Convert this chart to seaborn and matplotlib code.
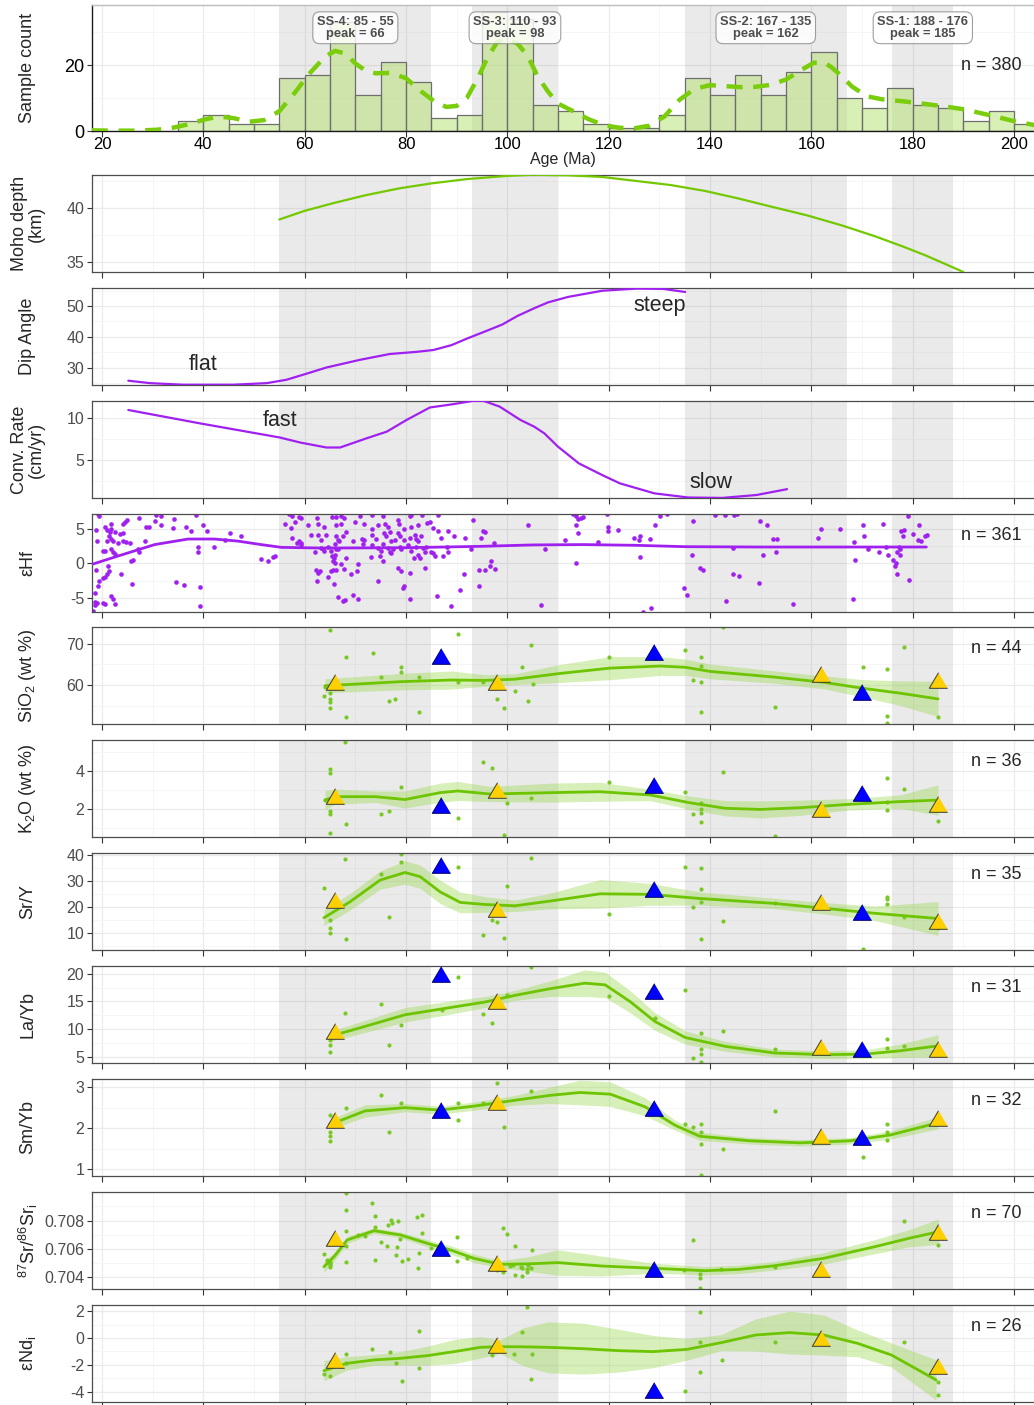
import numpy as np
import pandas as pd
import matplotlib
matplotlib.use("Agg")
import matplotlib.pyplot as plt
import seaborn as sns

sns.set_theme(style="white")
plt.rcParams["font.family"] = ["Liberation Sans", "DejaVu Sans"]
plt.rcParams["mathtext.fontset"] = "custom"
plt.rcParams["mathtext.rm"] = "Liberation Sans"
plt.rcParams["mathtext.it"] = "Liberation Sans:italic"
plt.rcParams["mathtext.bf"] = "Liberation Sans:bold"
plt.rcParams["axes.unicode_minus"] = False

# ------------------------------------------------------------------ data
hist_left = [35, 40, 45, 50, 55, 60, 65, 70, 75, 80, 85, 90, 95, 100, 105, 110, 115,
             120, 125, 130, 135, 140, 145, 150, 155, 160, 165, 170, 175, 180, 185,
             190, 195, 200]
hist_counts = [3, 5, 2, 2, 16, 17, 33, 11, 21, 15, 4, 5, 36, 34, 8, 6, 2,
               1, 1, 5, 16, 11, 17, 11, 18, 24, 10, 7, 13, 8, 7, 3, 6, 2]
n_hist = 380

kde_age = [18, 22, 27, 31, 34, 37, 40, 43, 46, 49, 52, 55, 58, 61, 64, 66, 68, 70, 72, 74,
           77, 80, 83, 86, 88, 90, 92, 94, 96, 98, 100, 102, 104, 106, 108, 110, 113, 116, 119, 122,
           125, 128, 131, 134, 137, 140, 143, 146, 149, 152, 155, 158, 160.5, 162.5, 164, 166, 168, 171, 174, 177.5,
           181, 184, 187, 190, 193.5, 197, 200, 204]
kde_count = [0.2, 0.1, 0.1, 0.4, 1.0, 2.0, 3.4, 4.4, 3.9, 2.8, 3.3, 6.0, 11.5, 17.5, 22.5, 24.3, 23.5, 20.5, 18.3, 17.5,
             17.6, 16.0, 12.0, 8.5, 7.3, 7.6, 10.0, 15.5, 22.0, 27.0, 28.0, 26.5, 22.8, 16.5, 12.0, 8.3, 6.0, 3.6, 1.8, 1.0,
             0.8, 1.6, 4.4, 9.5, 12.8, 13.9, 13.6, 13.3, 13.4, 14.0, 15.6, 18.5, 20.7, 20.8, 19.3, 16.6, 13.5, 10.5, 9.6, 9.1,
             8.5, 7.9, 7.3, 6.6, 5.4, 4.1, 3.0, 1.8]

stage_names = ["SS-4", "SS-3", "SS-2", "SS-1"]
stage_young = [55, 93, 135, 176]
stage_old = [85, 110, 167, 188]
stage_peak = [66, 98, 162, 185]

moho_age = [55, 60, 65.6, 72, 78.8, 85, 92, 100, 105, 112, 118.7, 125, 132.2, 139, 145.6,
            152, 159, 166, 172.5, 178, 182.6, 186, 190]
moho_depth = [38.95, 39.75, 40.46, 41.2, 41.85, 42.3, 42.7, 43.0, 43.1, 43.05, 42.9, 42.55, 42.15, 41.6, 40.9,
              40.15, 39.35, 38.4, 37.4, 36.45, 35.6, 34.9, 34.07]

dip_age = [25.2, 29.5, 36, 45.9, 52.5, 56.4, 60.4, 64.3, 70.9, 76.8, 82.1, 85.4, 89, 92, 96,
           99, 102, 105.3, 108, 112, 118.7, 125.4, 130.8, 135.1]
dip_angle = [25.7, 24.9, 24.4, 24.4, 24.9, 26.0, 28.0, 30.0, 32.5, 34.4, 35.1, 35.7, 37.3, 39.4, 42.0,
             44.0, 46.8, 49.3, 51.2, 53.0, 55.0, 55.7, 55.6, 54.6]

conv_age = [25.2, 39.3, 55.1, 59.1, 64.3, 67, 72.2, 76.2, 80.1, 84.7, 89.3, 93.3, 95.3, 98.5, 102.6,
            105.3, 107.3, 110, 114.1, 118.7, 122.2, 129, 135.7, 142.4, 149.2, 155.2]
conv_rate = [11.0, 9.4, 7.7, 7.1, 6.5, 6.5, 7.6, 8.4, 9.8, 11.3, 11.7, 12.1, 12.1, 11.4, 9.8,
             9.0, 8.2, 6.6, 4.6, 3.2, 2.2, 1.0, 0.5, 0.45, 0.8, 1.5]

hf_line_age = [18.2, 23.8, 30.4, 37, 42.2, 46.8, 51.4, 55.4, 63.3, 80, 95, 105, 115, 125, 135, 150, 170, 182.7]
hf_line_val = [-0.1, 1.2, 2.7, 3.5, 3.5, 3.2, 2.7, 2.3, 2.2, 2.25, 2.45, 2.65, 2.7, 2.6, 2.4, 2.35, 2.35, 2.35]

hf_pts_early = [
    (19.2, 7.1), (19.5, 6.75), (27.4, 6.5), (30.7, 7.0), (31.6, 6.75), (34.2, 6.4), (38.5, 7.0),
    (21.8, 5.6), (24.1, 5.6), (24.6, 6.0), (25.0, 6.3), (28.75, 5.3), (29.3, 5.3), (30.4, 6.1), (31.7, 5.45),
    (36.6, 5.2), (39.9, 5.45), (18.9, 4.8), (20.5, 5.2), (20.9, 4.8), (21.8, 5.0), (21.6, 4.5), (22.5, 4.5),
    (23.5, 4.2), (24.1, 4.35), (34.0, 5.1), (37.6, 4.6), (40.8, 4.7), (45.2, 4.35), (47.5, 4.0),
    (19.1, 3.15), (20.9, 3.15), (21.3, 3.9), (21.7, 3.5), (22.2, 3.15), (23.2, 2.9), (24.1, 3.15), (24.8, 3.05),
    (25.5, 2.9), (28.4, 3.15), (38.9, 2.4), (42.2, 2.3), (44.2, 3.4), (20.2, 1.8), (20.5, 1.8), (21.8, 2.0),
    (22.2, 1.7), (22.5, 1.4), (27.1, 2.0), (27.4, 1.7), (38.9, 1.6), (25.7, 0.3), (26.1, 0.5), (51.4, 0.6),
    (52.8, 0.4), (53.75, 0.9), (54.2, 1.1), (18.9, -0.9), (21.2, -0.4), (21.3, -1.15), (20.9, -1.5), (20.5, -1.9),
    (20.2, -2.1), (19.5, -2.5), (23.7, -1.5), (19.2, -3.3), (26.0, -2.9), (34.7, -2.7), (36.2, -3.1), (39.3, -3.45),
    (18.7, -4.25), (18.6, -5.5), (19.1, -5.7), (20.2, -5.7), (20.5, -5.85), (21.8, -4.7), (22.2, -5.1), (22.6, -5.8),
    (39.3, -6.1), (18.2, -6.9), (18.6, -6.0)]
hf_pts_mid = [
    (57.0, 7.1), (57.5, 6.75), (58.8, 6.6), (59.2, 6.5), (62.5, 6.5), (65.3, 6.6), (66.25, 6.65), (67.2, 6.75),
    (67.8, 6.5), (69.9, 6.0), (70.9, 6.75), (73.2, 7.0), (75.5, 6.75), (78.4, 6.3), (80.7, 6.75), (81.05, 6.9),
    (83.2, 7.0), (86.3, 6.9), (56.05, 5.6), (58.0, 6.0), (57.4, 5.1), (60.7, 5.45), (62.6, 5.6), (63.9, 5.2),
    (66.25, 5.5), (67.2, 5.6), (68.2, 4.5), (71.7, 5.6), (73.2, 5.0), (74.5, 5.45), (75.8, 5.6), (76.45, 5.3),
    (76.8, 4.5), (78.55, 5.6), (79.7, 5.0), (81.05, 5.2), (82.4, 5.45), (84.1, 5.8), (84.7, 6.0), (85.3, 5.1),
    (86.3, 4.6), (88.3, 4.6), (57.5, 3.6), (58.8, 3.15), (59.3, 2.9), (61.3, 4.1), (62.6, 4.1), (63.3, 3.4),
    (64.3, 4.1), (66.25, 3.9), (66.6, 3.4), (66.7, 3.15), (67.6, 3.9), (69.5, 3.15), (71.3, 3.5), (71.8, 3.4),
    (73.2, 4.1), (74.1, 3.5), (75.7, 4.35), (76.1, 3.9), (77.1, 3.15), (77.8, 3.4), (78.4, 4.35), (78.75, 3.9),
    (79.7, 3.4), (80.7, 3.6), (81.7, 4.1), (82.0, 3.5), (82.4, 3.15), (83.0, 3.9), (87.0, 3.6), (89.5, 3.9),
    (91.6, 3.7), (58.55, 2.9), (59.3, 2.7), (62.0, 1.7), (63.3, 2.2), (63.6, 2.0), (63.9, 1.8), (64.7, 2.3),
    (65.1, 1.8), (65.9, 2.8), (66.25, 2.0), (66.6, 2.0), (71.5, 2.8), (73.2, 2.6), (74.5, 2.2), (75.1, 1.8),
    (75.5, 2.8), (76.45, 2.2), (76.8, 1.7), (77.1, 1.5), (77.4, 2.1), (78.9, 2.4), (79.1, 2.0), (80.4, 2.7),
    (81.05, 1.8), (82.0, 2.4), (82.4, 1.25), (83.4, 2.2), (83.7, 1.7), (84.0, 2.4), (85.0, 1.7), (85.3, 1.5),
    (88.0, 2.4), (88.3, 1.7), (92.9, 2.0), (65.3, 1.0), (65.8, 0.75), (65.9, 1.25), (65.6, 0.3), (66.05, 0.05),
    (67.2, -0.1), (68.2, 0.75), (73.0, 0.85), (74.8, 1.0), (75.5, 0.3), (81.6, 0.75), (82.7, 0.75), (85.7, 1.0),
    (87.3, 1.0), (83.8, -0.6), (62.3, -0.9), (62.6, -1.4), (62.96, -1.15), (62.5, -2.5), (64.6, -2.0),
    (65.1, -1.15), (65.6, -0.9), (66.25, -0.9), (67.8, -0.8), (69.1, -1.5), (70.5, -0.1), (70.4, -1.15),
    (74.5, -2.6), (78.4, -0.6), (79.1, -1.15), (80.7, -1.4), (91.4, -1.6), (94.5, -0.9), (95.5, -0.9),
    (96.5, -0.4), (96.8, 0.3), (97.6, -0.8), (65.8, -3.0), (66.6, -4.9), (67.6, -5.4), (68.0, -5.3),
    (69.5, -4.5), (70.5, -5.1), (79.4, -3.55), (79.7, -3.2), (80.7, -5.2), (86.2, -4.7), (88.8, -6.2),
    (90.6, -3.9), (94.5, -3.2), (106.7, -6.0), (93.2, 6.3), (95.2, 4.7), (95.5, 4.5), (94.9, 3.6),
    (97.4, 2.9), (104.1, 5.45), (107.4, 2.1)]
hf_pts_late = [
    (113.0, 7.1), (113.6, 6.75), (114.0, 6.4), (114.5, 6.5), (115.0, 6.6), (119.7, 7.1), (130.1, 6.75),
    (131.6, 7.1), (141.0, 6.9), (143.0, 7.0), (144.7, 6.9), (145.4, 7.1), (179.0, 6.75), (113.6, 5.45),
    (119.9, 5.3), (129.2, 5.5), (136.6, 6.1), (149.9, 6.1), (151.3, 5.45), (170.1, 5.45), (174.1, 5.6),
    (181.3, 5.5), (111.3, 3.4), (114.0, 4.35), (119.9, 4.6), (121.9, 4.8), (125.0, 3.7), (126.1, 3.9),
    (125.9, 3.4), (128.2, 3.5), (152.4, 3.5), (153.3, 3.5), (161.4, 3.7), (162.0, 5.0), (165.7, 5.0),
    (170.3, 4.0), (177.6, 4.6), (178.2, 4.8), (178.0, 4.0), (180.1, 4.2), (181.1, 3.4), (181.6, 3.15),
    (182.4, 4.0), (182.9, 4.1), (117.8, 3.05), (144.6, 2.2), (168.4, 3.05), (171.1, 2.0), (173.4, 1.7),
    (174.7, 2.4), (175.2, 1.25), (176.9, 1.6), (177.5, 2.0), (177.2, 2.4), (113.6, 0.05), (126.1, 0.9),
    (136.4, 1.15), (150.5, 1.15), (153.0, 1.6), (168.6, 0.5), (176.1, 0.5), (176.7, 0.05), (176.6, -0.4),
    (177.5, 1.15), (138.0, -0.6), (138.7, -1.0), (144.6, -1.5), (145.7, -1.8), (149.6, -2.8), (176.9, -1.6),
    (179.3, -2.4), (134.9, -3.55), (135.4, -4.5), (143.1, -5.4), (156.3, -5.8), (168.3, -5.1),
    (126.7, -6.95), (128.3, -6.4)]
n_hf = 361

sio2_pts = [(65.0, 73.3), (68.2, 66.9), (73.4, 67.7), (79.1, 64.3), (79.1, 63.1), (82.6, 62.0), (75.1, 61.9),
            (90.2, 72.4), (90.2, 60.8), (95.1, 60.8), (102.8, 64.3), (104.6, 69.8), (105.0, 60.2), (101.5, 58.6),
            (97.9, 56.6), (99.3, 54.5), (104.0, 56.1), (76.6, 56.1), (77.8, 56.6), (82.6, 53.5), (68.2, 52.3),
            (63.8, 57.3), (65.0, 58.1), (65.0, 56.7), (65.0, 55.9), (65.0, 54.5), (64.0, 59.6), (120.1, 66.7),
            (135.1, 68.5), (138.2, 66.9), (138.2, 64.7), (136.7, 61.1), (138.2, 60.7), (138.2, 53.5),
            (142.5, 74.0), (152.8, 54.7), (170.1, 64.3), (175.0, 63.9), (175.0, 52.5), (175.0, 50.8),
            (178.2, 69.2), (185.0, 52.1), (65.0, 59.2), (65.4, 60.4)]
sio2_line_age = [64, 79, 89, 95.6, 101.5, 110.4, 120.3, 130.1, 135.1, 140, 152.8, 162.7, 170.1, 177.5, 185]
sio2_line_val = [59.8, 60.8, 61.2, 61.1, 61.4, 62.8, 64.1, 64.6, 64.3, 63.3, 61.9, 60.6, 59.2, 58.0, 56.6]
sio2_half = [1.7, 2.0, 2.2, 1.4, 1.3, 2.2, 2.8, 2.3, 2.0, 1.8, 1.5, 1.6, 2.1, 3.0, 4.3]
sio2_yellow = [(66, 60.6), (98, 60.6), (162, 62.7), (185, 61.1)]
sio2_blue = [(87, 67.0), (129, 68.0), (170, 58.2)]

k2o_pts = [(68, 5.55), (65, 4.09), (65, 3.88), (79.1, 3.14), (95.1, 4.46), (97.0, 4.14), (100, 2.33), (104.6, 2.56),
           (120.1, 3.44), (135.1, 2.91), (142.5, 3.93), (138.2, 2.3), (138.2, 1.98), (138.2, 1.81), (136.7, 1.74),
           (138.2, 1.33), (152.8, 0.58), (175, 3.61), (178.2, 3.04), (175, 2.39), (175, 1.95), (185, 1.37),
           (90.2, 1.51), (99.3, 0.63), (76.6, 1.89), (75.1, 1.74), (68.2, 1.21), (65, 1.91), (65, 1.74), (65, 0.72),
           (64, 2.47), (65.8, 2.74), (98.1, 2.82), (162.2, 2.04), (185.2, 2.3), (87, 2.3)]
k2o_line_age = [64, 66, 74, 79.8, 86.7, 90.2, 96.6, 108.4, 118.3, 128.2, 136, 143, 149.9, 157.8, 167.6, 177.5, 185]
k2o_line_val = [2.47, 2.65, 2.65, 2.5, 2.86, 2.95, 2.79, 2.86, 2.91, 2.74, 2.33, 2.04, 1.98, 2.07, 2.25, 2.39, 2.47]
k2o_half = [0.5, 0.4, 0.3, 0.45, 0.5, 0.5, 0.4, 0.5, 0.5, 0.3, 0.35, 0.4, 0.45, 0.4, 0.3, 0.35, 0.8]
k2o_yellow = [(66, 2.7), (98, 2.98), (162, 2.02), (185, 2.28)]
k2o_blue = [(87, 2.2), (129, 3.28), (170, 2.85)]

sry_pts = [(68, 38.5), (79.1, 40.4), (79.1, 37.2), (75.1, 32.6), (90.2, 35.4), (63.8, 27.4), (65, 15.0), (65, 12.1),
           (65, 9.9), (68.2, 7.7), (76.6, 16.0), (100, 28.2), (104.6, 38.7), (97, 14.9), (97.9, 14.1), (95.1, 9.2),
           (99.3, 8.2), (120.1, 17.2), (135.1, 35.6), (138.2, 34.9), (138.2, 26.8), (136.7, 20.1), (138.2, 22.1),
           (138.2, 7.8), (142.5, 14.7), (152.8, 21.4), (175, 24.0), (175, 23.0), (175, 21.0), (178.2, 16.3),
           (170.1, 3.7), (185, 11.8), (66, 21.4), (162.2, 19.5), (185.2, 14.0)]
sry_line_age = [63.8, 69, 74.9, 79.8, 82.8, 86.7, 90.7, 95.6, 101.5, 108.4, 118.3, 128.2, 138, 152.8, 162.7, 172.6, 185]
sry_line_val = [15.9, 22.1, 30.4, 33.3, 31.7, 25.9, 21.8, 21.0, 20.5, 22.3, 25.1, 24.9, 23.3, 21.4, 19.5, 17.6, 15.6]
sry_half = [3.0, 3.2, 3.5, 4.5, 4.5, 4.5, 4.0, 3.0, 2.2, 3.0, 5.5, 4.2, 2.5, 2.0, 2.2, 2.8, 6.5]
sry_yellow = [(66, 22.8), (98, 19.3), (162, 21.8), (185, 14.7)]
sry_blue = [(87, 36.1), (129, 26.8), (170, 18.3)]

layb_pts = [(104.6, 21.2), (90.2, 19.5), (75.1, 14.6), (68, 12.9), (79.1, 10.7), (76.6, 7.2), (65, 8.1), (65, 7.2),
            (65, 5.8), (95.1, 12.8), (97, 11.2), (100, 16.1), (120.1, 15.9), (135.1, 17.0), (138.2, 9.4), (138.2, 6.4),
            (138.2, 5.5), (136.7, 4.8), (138.2, 4.0), (142.5, 9.7), (152.8, 6.4), (175, 8.2), (175, 6.6), (178.2, 7.0),
            (66, 9.3), (98.1, 15.0), (162.2, 6.3), (185.2, 6.0), (170.1, 5.8), (87.2, 13.5), (129.1, 12.0)]
layb_line_age = [65, 71.9, 79.8, 88.7, 95.6, 101.5, 108.4, 115.3, 119.3, 124.2, 129.1, 135.1, 143, 152.8, 162.7,
                 170.6, 177.5, 185]
layb_line_val = [8.7, 10.5, 12.6, 13.9, 14.9, 16.1, 17.3, 18.3, 18.0, 15.0, 11.4, 8.5, 6.9, 5.7, 5.4, 5.5, 6.1, 7.0]
layb_half = [0.9, 1.1, 1.3, 1.2, 1.0, 0.9, 1.4, 2.4, 2.3, 2.0, 1.6, 1.2, 0.9, 0.7, 0.7, 0.8, 1.2, 2.0]
layb_yellow = [(66, 9.6), (98, 15.1), (162, 6.7), (185, 6.4)]
layb_blue = [(87, 19.9), (129, 16.8), (170, 6.4)]

smyb_pts = [(97.9, 3.11), (104.6, 2.91), (75.1, 2.8), (79.1, 2.62), (68.2, 2.5), (90.2, 2.62), (95.1, 2.62),
            (90.2, 2.21), (65, 2.32), (65, 2.11), (65, 1.91), (65, 1.8), (65, 1.69), (76.6, 1.91), (99.3, 2.02),
            (152.8, 2.41), (135.1, 2.11), (138.2, 2.11), (136.7, 2.02), (138.2, 1.91), (138.2, 1.61), (142.5, 1.5),
            (138.2, 0.86), (175, 2.11), (175, 1.91), (175, 1.71), (170.1, 1.3), (66, 2.24), (98.1, 2.6),
            (162.2, 1.79), (185.2, 2.2), (87.2, 2.4)]
smyb_line_age = [65.5, 71.9, 79.8, 86.7, 93.6, 101.5, 108.4, 114.3, 120.3, 127.2, 133.1, 138, 147.9, 157.8, 167.6,
                 175.5, 185]
smyb_line_val = [2.11, 2.42, 2.5, 2.44, 2.54, 2.68, 2.8, 2.87, 2.83, 2.52, 2.07, 1.8, 1.69, 1.64, 1.69, 1.83, 2.13]
smyb_half = [0.12, 0.15, 0.1, 0.1, 0.1, 0.12, 0.2, 0.3, 0.3, 0.22, 0.12, 0.1, 0.08, 0.08, 0.08, 0.1, 0.15]
smyb_yellow = [(66, 2.21), (98, 2.65), (162, 1.8), (185, 2.25)]
smyb_blue = [(87, 2.45), (129, 2.5), (170, 1.79)]

sr_pts = [(68.1, 0.70995), (68.1, 0.70875), (68.1, 0.70727), (68.1, 0.70624), (68.1, 0.70511), (63.8, 0.70565),
          (65.0, 0.70511), (65.0, 0.70487), (65.0, 0.70475), (73.2, 0.70922), (73.9, 0.70833), (73.9, 0.70758),
          (73.9, 0.70522), (76.3, 0.70621), (76.5, 0.70769), (77.0, 0.70805), (77.3, 0.70786), (78.4, 0.708),
          (78.2, 0.70616), (78.0, 0.70555), (78.8, 0.70668), (79.3, 0.70518), (80.3, 0.70527), (82.1, 0.70824),
          (83.1, 0.70842), (83.1, 0.70711), (82.5, 0.70574), (82.4, 0.70464), (90.0, 0.70682), (90.0, 0.70515),
          (99.2, 0.7075), (100.0, 0.70704), (101.5, 0.70624), (97.9, 0.70452), (99.2, 0.7044), (104.9, 0.70593),
          (101.2, 0.70487), (102.6, 0.70475), (102.9, 0.70463), (103.9, 0.70458), (104.6, 0.70463),
          (103.9, 0.70435), (101.5, 0.70416), (102.9, 0.70412), (136.7, 0.70663), (138.1, 0.70424),
          (138.1, 0.70393), (138.1, 0.70325), (134.8, 0.70452), (142.2, 0.70456), (152.9, 0.70475),
          (178.2, 0.70797), (184.9, 0.70626), (65.0, 0.70500), (65.0, 0.70493), (64.5, 0.70520), (66.0, 0.70680),
          (98.0, 0.70500), (98.5, 0.70470), (100.5, 0.70480), (104.0, 0.70490), (129.0, 0.70460),
          (162.0, 0.70450), (185.0, 0.70720), (70.5, 0.70700), (72.0, 0.70690), (75.0, 0.70650),
          (85.0, 0.70610), (88.0, 0.70590), (92.0, 0.70540)]
sr_line_age = [63.8, 65.8, 68.4, 73.7, 78.9, 84.2, 88.8, 93.4, 98.6, 104, 110, 118.7, 129.1, 138.9, 145.6, 152.3,
               162.4, 172.5, 179.2, 185.1]
sr_line_val = [0.70475, 0.70546, 0.70664, 0.70729, 0.70699, 0.7064, 0.70593, 0.70534, 0.70492, 0.70495, 0.70504,
               0.7048, 0.70464, 0.70447, 0.70456, 0.7048, 0.70534, 0.70616, 0.70675, 0.70722]
sr_half = [0.0004, 0.0003, 0.00025, 0.0002, 0.0002, 0.00025, 0.0003, 0.0003, 0.00025, 0.0005, 0.0009, 0.0007,
           0.00035, 0.0003, 0.0003, 0.0003, 0.0004, 0.0005, 0.0006, 0.0009]
sr_yellow = [(66, 0.7068), (98, 0.70503), (162, 0.70456), (185, 0.70722)]
sr_blue = [(87, 0.70606), (129, 0.70458)]

nd_pts = [(63.8, -2.71), (65, -2.81), (68.1, -1.19), (68.1, -1.84), (73.2, -0.82), (76.8, -1.02), (78.1, -1.89),
          (79.3, -3.18), (82.5, 0.52), (82.5, -2.21), (97, -1.27), (103.8, 2.3), (102.9, 0.42), (101.4, -1.19),
          (104.9, -1.19), (104.6, -3.06), (135.0, -3.96), (138.1, 1.94), (138.1, -0.3), (138.1, -2.51),
          (142.4, -1.64), (152.9, -0.27), (178.2, -0.27), (184.9, -3.26), (184.9, -4.25), (66, -1.6)]
nd_line_age = [63.8, 68.4, 73.7, 78.9, 84.2, 89.5, 94.7, 98.6, 103, 108, 115, 122, 128.8, 135.5, 142.2, 149,
               155.7, 162.4, 169.1, 175.8, 184.6]
nd_line_val = [-2.44, -1.89, -1.64, -1.52, -1.32, -1.02, -0.70, -0.65, -0.66, -0.70, -0.80, -0.95, -1.02, -0.85,
               -0.35, 0.22, 0.4, 0.22, -0.4, -1.27, -3.13]
nd_half = [0.75, 0.5, 0.4, 0.5, 0.7, 0.9, 0.8, 0.5, 1.4, 1.9, 1.9, 1.6, 1.2, 0.8, 0.6, 1.2, 1.6, 1.5, 1.0, 0.9, 1.5]
nd_yellow = [(66, -1.63), (98, -0.55), (162, 0.0), (185, -2.12)]
nd_blue = [(129, -3.9)]

geo_n = {"sio2": 44, "k2o": 36, "sry": 35, "layb": 31, "smyb": 32, "sr": 70, "nd": 26}

# ------------------------------------------------------------------ style
GREEN_PT = "#78C925"
GREEN_LN = "#6DC400"
BAND_FILL = "#9BD84E"
PURPLE = "#A020F0"
YELLOW = "#FFD000"
BLUE = "#0000FF"
TRI = [(0, 0.85), (-1, -0.85), (1, -0.85)]

W, H = 1034, 1405
fig = plt.figure(figsize=(W / 100, H / 100), dpi=100)
XLIM = (18.03, 203.94)
LEFT, RIGHT = 92, 1034
major_x = list(range(20, 201, 20))
minor_x = list(range(30, 201, 20))


def make_ax(top, bottom):
    return fig.add_axes([LEFT / W, 1 - bottom / H, (RIGHT - LEFT) / W, (bottom - top) / H])


def base_style(ax, ylim, yticks, minor_y, top_panel=False):
    ax.set_xlim(XLIM)
    ax.set_ylim(ylim)
    ax.set_xticks(major_x)
    ax.set_xticks(minor_x, minor=True)
    ax.set_yticks(yticks)
    ax.set_yticks(minor_y, minor=True)
    ax.set_axisbelow(True)
    ax.grid(True, which="major", color="#EBEBEB", lw=0.9)
    ax.grid(True, which="minor", color="#F3F3F3", lw=0.5)
    for lo, hi in zip(stage_young, stage_old):
        ax.axvspan(lo, hi, color="#808080", alpha=0.16, lw=0, zorder=0.6)
    ax.tick_params(axis="both", which="minor", length=0)
    ax.tick_params(axis="x", which="major", bottom=True, length=4, width=0.8, color="#333333",
                   labelbottom=top_panel, labelsize=12, labelcolor="black", pad=0.5)
    ax.tick_params(axis="y", which="major", left=True, length=3.5, width=0.8, color="#333333",
                   labelsize=13 if top_panel else 11.5,
                   labelcolor="black" if top_panel else "#4D4D4D", pad=2)
    ax.spines["right"].set_visible(False)
    if top_panel:
        ax.spines["left"].set_color("#1A1A1A")
        ax.spines["bottom"].set_color("#1A1A1A")
        ax.spines["top"].set_color("#BDBDBD")
        for s in ["left", "bottom", "top"]:
            ax.spines[s].set_linewidth(1.0)
    else:
        for s in ["left", "bottom", "top"]:
            ax.spines[s].set_color("#4D4D4D")
            ax.spines[s].set_linewidth(0.9)
    ax.set_ylabel("")


def ylabel(top, bottom, text, x=28):
    fig.text(x / W, 1 - (top + bottom) / 2 / H, text, rotation=90, ha="center", va="center",
             fontsize=13, linespacing=1.05)


def n_label(ax, n, y=0.78):
    ax.text(0.987, y, f"n = {n}", transform=ax.transAxes, ha="right", va="center", fontsize=13, zorder=7)


def draw_geo(ax, pts, l_age, l_val, l_half, yellow, blue, n):
    df = pd.DataFrame(pts, columns=["age", "val"])
    lo = np.array(l_val) - np.array(l_half)
    hi = np.array(l_val) + np.array(l_half)
    ax.fill_between(l_age, lo, hi, color=BAND_FILL, alpha=0.4, lw=0, zorder=2)
    sns.scatterplot(data=df, x="age", y="val", ax=ax, color=GREEN_PT, s=9, linewidth=0, zorder=2.5)
    sns.lineplot(x=l_age, y=l_val, ax=ax, color=GREEN_LN, lw=2.0, zorder=3)
    ydf = pd.DataFrame(yellow, columns=["age", "val"])
    sns.scatterplot(data=ydf, x="age", y="val", ax=ax, marker=TRI, s=175, color=YELLOW,
                    edgecolor="#3A3A3A", linewidth=0.7, zorder=5)
    if blue:
        bdf = pd.DataFrame(blue, columns=["age", "val"])
        sns.scatterplot(data=bdf, x="age", y="val", ax=ax, marker=TRI, s=175, color=BLUE,
                        edgecolor="#00006A", linewidth=0.7, zorder=5)
    n_label(ax, n)
    ax.set_xlabel("")


panels = [(5, 131), (175, 272), (288, 385), (401, 498), (514, 612), (627, 724), (740, 837),
          (853, 950), (966, 1063), (1079, 1176), (1192, 1289), (1305, 1402)]

# ---- 1. histogram
ax = make_ax(*panels[0])
edges = hist_left + [hist_left[-1] + 5]
sns.histplot(x=[l + 2.5 for l in hist_left], weights=hist_counts, bins=edges, ax=ax,
             color="#B3E06C", alpha=0.5, edgecolor="#6E6E6E", linewidth=0.9, zorder=2)
sns.lineplot(x=kde_age, y=kde_count, ax=ax, color="#7ACD0A", lw=3.2, zorder=3)
ax.lines[-1].set_dashes([3.6, 2.4])
base_style(ax, (0, 38.2), [0, 20], [10, 30], top_panel=True)
ax.set_xlabel("Age (Ma)", fontsize=11.5, labelpad=0)
for nm, yo, ol, pk in zip(stage_names, stage_young, stage_old, stage_peak):
    ax.text((yo + ol) / 2, 31.3, f"{nm}: {ol} - {yo}\npeak = {pk}", ha="center", va="center",
            fontsize=9.3, fontweight="bold", color="#4D4D4D", linespacing=0.95, zorder=6,
            bbox=dict(boxstyle="round,pad=0.32,rounding_size=0.55", fc="white", ec="#8A8A8A",
                      alpha=0.82, lw=0.8))
n_label(ax, n_hist, y=0.516)
ylabel(*panels[0], "Sample count")

# ---- 2. Moho depth
ax = make_ax(*panels[1])
sns.lineplot(x=moho_age, y=moho_depth, ax=ax, color="#74C800", lw=1.6, zorder=3)
base_style(ax, (34.07, 43.08), [35, 40], [37.5, 42.5])
ax.set_xlabel("")
ylabel(*panels[1], "Moho depth\n(km)")

# ---- 3. Dip angle
ax = make_ax(*panels[2])
sns.lineplot(x=dip_age, y=dip_angle, ax=ax, color=PURPLE, lw=1.6, zorder=3)
base_style(ax, (24.3, 55.9), [30, 40, 50], [25, 35, 45, 55])
ax.set_xlabel("")
ax.text(39.9, 30.9, "flat", ha="center", va="center", fontsize=15.5)
ax.text(130.1, 50.3, "steep", ha="center", va="center", fontsize=15.5)
ylabel(*panels[2], "Dip Angle")

# ---- 4. Convergence rate
ax = make_ax(*panels[3])
sns.lineplot(x=conv_age, y=conv_rate, ax=ax, color=PURPLE, lw=1.6, zorder=3)
base_style(ax, (0.44, 12.08), [5, 10], [2.5, 7.5])
ax.set_xlabel("")
ax.text(55.1, 9.8, "fast", ha="center", va="center", fontsize=15.5)
ax.text(140.2, 2.36, "slow", ha="center", va="center", fontsize=15.5)
ylabel(*panels[3], "Conv. Rate\n(cm/yr)")

# ---- 5. eHf
ax = make_ax(*panels[4])
hf_df = pd.DataFrame(hf_pts_early + hf_pts_mid + hf_pts_late, columns=["age", "val"])
sns.scatterplot(data=hf_df, x="age", y="val", ax=ax, color=PURPLE, s=11, linewidth=0, zorder=2.5)
sns.lineplot(x=hf_line_age, y=hf_line_val, ax=ax, color=PURPLE, lw=2.0, zorder=3)
base_style(ax, (-7.0, 7.1), [-5, 0, 5], [-2.5, 2.5])
ax.set_xlabel("")
n_label(ax, n_hf)
ylabel(*panels[4], "εHf")

# ---- 6-12 geochemistry
geo = [
    ("sio2", sio2_pts, sio2_line_age, sio2_line_val, sio2_half, sio2_yellow, sio2_blue,
     (50.5, 74.1), [60, 70], [55, 65], r"SiO$_2$ (wt %)"),
    ("k2o", k2o_pts, k2o_line_age, k2o_line_val, k2o_half, k2o_yellow, k2o_blue,
     (0.53, 5.63), [2, 4], [1, 3, 5], r"K$_2$O (wt %)"),
    ("sry", sry_pts, sry_line_age, sry_line_val, sry_half, sry_yellow, sry_blue,
     (3.5, 40.8), [10, 20, 30, 40], [5, 15, 25, 35], "Sr/Y"),
    ("layb", layb_pts, layb_line_age, layb_line_val, layb_half, layb_yellow, layb_blue,
     (3.9, 21.4), [5, 10, 15, 20], [7.5, 12.5, 17.5], "La/Yb"),
    ("smyb", smyb_pts, smyb_line_age, smyb_line_val, smyb_half, smyb_yellow, smyb_blue,
     (0.83, 3.2), [1, 2, 3], [1.5, 2.5], "Sm/Yb"),
    ("sr", sr_pts, sr_line_age, sr_line_val, sr_half, sr_yellow, sr_blue,
     (0.70318, 0.71002), [0.704, 0.706, 0.708], [0.705, 0.707, 0.709], r"$^{87}$Sr/$^{86}$Sr$_\mathrm{i}$"),
    ("nd", nd_pts, nd_line_age, nd_line_val, nd_half, nd_yellow, nd_blue,
     (-4.78, 2.46), [-4, -2, 0, 2], [-3, -1, 1], r"εNd$_\mathrm{i}$"),
]
for i, (key, pts, la, lv, lh, yel, blu, ylim, yt, ymt, lab) in enumerate(geo):
    top, bottom = panels[5 + i]
    ax = make_ax(top, bottom)
    draw_geo(ax, pts, la, lv, lh, yel, blu, geo_n[key])
    base_style(ax, ylim, yt, ymt)
    if key == "sr":
        ax.set_yticklabels([f"{v:.3f}" for v in yt])
    ylabel(top, bottom, lab)

fig.savefig("out.png", dpi=100)
